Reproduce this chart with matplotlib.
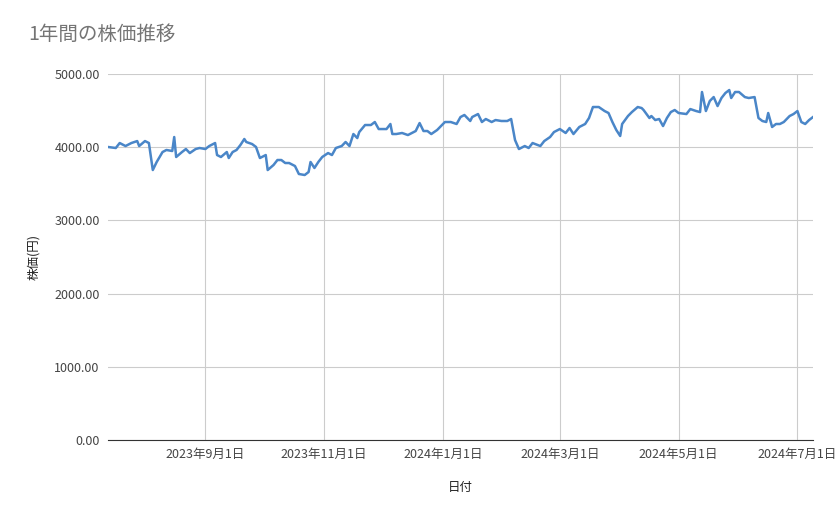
import matplotlib
matplotlib.use("Agg")
import matplotlib.pyplot as plt
import matplotlib.dates as mdates
import numpy as np
import datetime as dt

plt.rcParams['font.family'] = ['Noto Sans CJK JP', 'DejaVu Sans']

start_date = dt.date(2023, 7, 13)
day_offsets = [0,4,6,9,12,15,16,19,21,23,25,28,30,33,34,35,38,40,42,45,47,50,52,55,56,58,61,62,64,66,68,70,71,74,76,78,81,82,85,87,89,91,93,96,98,101,103,104,106,108,110,113,115,117,120,122,124,126,128,129,132,135,137,139,143,145,146,148,151,154,156,158,160,162,164,166,169,171,173,176,179,181,183,186,187,190,192,194,197,199,202,205,207,209,211,214,216,218,222,224,227,229,232,235,237,239,242,245,247,249,252,255,257,259,261,263,264,267,269,272,274,275,278,279,281,283,285,287,289,291,293,297,299,302,304,305,307,309,311,313,315,317,319,320,322,324,327,329,332,334,336,338,339,341,343,345,347,350,352,354,356,358,360,362]
prices = [4003,3989,4057,4016,4057,4084,4016,4084,4057,3688,3798,3934,3962,3948,4139,3866,3934,3975,3920,3975,3989,3975,4016,4057,3893,3866,3934,3852,3934,3962,4030,4112,4071,4043,4003,3852,3893,3688,3757,3825,3825,3784,3784,3743,3634,3620,3661,3798,3716,3798,3866,3920,3893,3989,4016,4071,4016,4180,4125,4207,4303,4303,4344,4248,4248,4317,4180,4180,4194,4166,4194,4221,4330,4221,4221,4180,4235,4289,4344,4344,4317,4412,4440,4358,4412,4453,4344,4385,4344,4371,4358,4358,4385,4098,3975,4016,3989,4057,4016,4084,4139,4207,4248,4194,4262,4180,4276,4317,4399,4549,4549,4494,4467,4344,4235,4153,4317,4426,4480,4549,4535,4508,4399,4426,4371,4385,4289,4399,4480,4508,4467,4453,4521,4494,4480,4754,4494,4631,4685,4562,4672,4740,4781,4672,4754,4754,4685,4672,4685,4399,4358,4344,4467,4276,4317,4317,4344,4426,4453,4494,4344,4317,4371,4412]
dates = [start_date + dt.timedelta(days=d) for d in day_offsets]

fig = plt.figure(figsize=(8.39, 5.19), dpi=100)
ax = fig.add_axes([108/839, 1-440/519, (813-108)/839, (440-74)/519])
ax.plot(dates, prices, color='#4a86c8', lw=1.8)

ax.set_ylim(0, 5000)
ax.set_yticks([0, 1000, 2000, 3000, 4000, 5000])
ax.set_yticklabels([f"{v:.2f}" for v in [0, 1000, 2000, 3000, 4000, 5000]])
ax.set_xlim(dates[0], dates[-1])
tick_dates = [dt.date(2023,9,1), dt.date(2023,11,1), dt.date(2024,1,1), dt.date(2024,3,1), dt.date(2024,5,1), dt.date(2024,7,1)]
ax.set_xticks(tick_dates)
ax.set_xticklabels([f"{d.year}年{d.month}月{d.day}日" for d in tick_dates])
ax.grid(True, color='#cccccc', lw=0.8)
ax.set_axisbelow(True)
for s in ['top', 'right', 'left']:
    ax.spines[s].set_visible(False)
ax.spines['bottom'].set_color('#333333')
ax.tick_params(length=0, labelsize=9, colors='#444444', pad=6)
ax.set_xlabel('日付', fontsize=9, color='#222222', labelpad=14)
ax.set_ylabel('株価(円)', fontsize=9, color='#222222', labelpad=10)
fig.text(28/839, 1-40/519, '1年間の株価推移', fontsize=14, color='#757575')

fig.savefig('out.png', dpi=100)
